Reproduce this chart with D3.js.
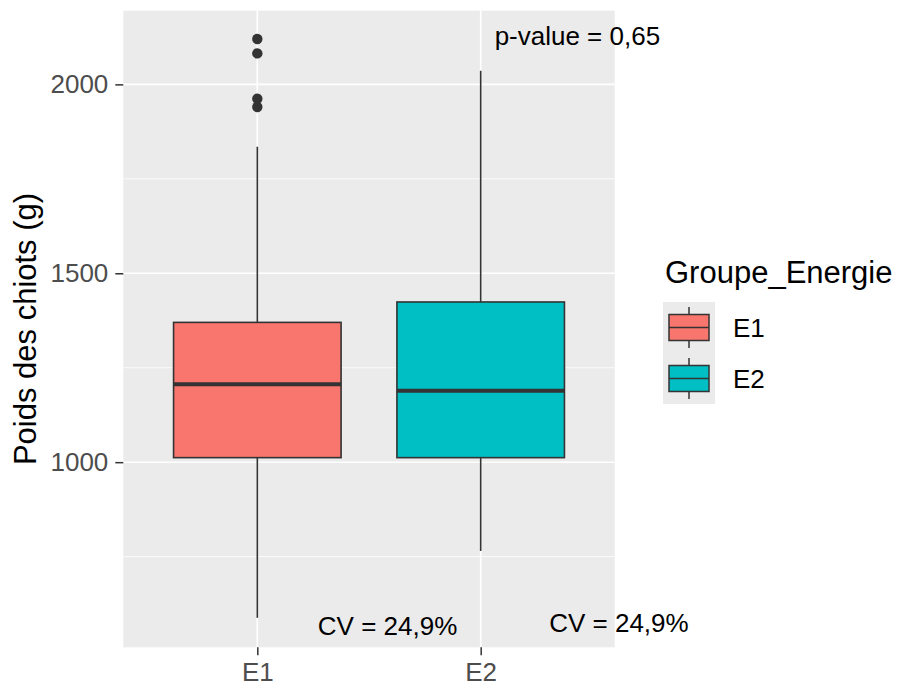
<!DOCTYPE html>
<html><head><meta charset="utf-8">
<script src="https://cdn.jsdelivr.net/npm/d3@7"></script>
<style>
body{margin:0;background:#fff;}
text{font-family:"Liberation Sans",Arial,sans-serif;}
</style></head>
<body><svg id="c" width="900" height="687"></svg>
<script>
// ---- data ----
const categories = ["E1", "E2"];
const whiskerLow  = [588, 765];
const q1          = [1012, 1012];
const medians     = [1206, 1189];
const q3          = [1370, 1424];
const whiskerHigh = [1835, 2036];
const outliers    = [[2120, 2082, 1962, 1940], []];
const fills       = ["#F8766D", "#00BFC4"];
const yTicks      = [1000, 1500, 2000];
const yMinor      = [750, 1250, 1750];
const annLabels   = ["p-value = 0,65", "CV = 24,9%", "CV = 24,9%"];
const annX        = [2.433, 1.583, 2.619];
const annY        = [2128, 566, 575];

const svg = d3.select("#c");
const L = 123.3, R = 614.7, T = 10.7, B = 647.3;

const x = d3.scalePoint().domain(categories).range([L, R]).padding(0.6);
const step = x.step();
const xNum = v => x(categories[0]) + (v - 1) * step;
const y = d3.scaleLinear().domain([510, 2195]).range([B, T]);
const bw = step * 0.75;

// panel
svg.append("rect").attr("x", L).attr("y", T).attr("width", R - L).attr("height", B - T).attr("fill", "#EBEBEB");
const g = svg.append("g");
g.selectAll(".minor").data(yMinor).join("line")
  .attr("x1", L).attr("x2", R).attr("y1", d => y(d)).attr("y2", d => y(d))
  .attr("stroke", "#fff").attr("stroke-width", 0.8);
g.selectAll(".major").data(yTicks).join("line")
  .attr("x1", L).attr("x2", R).attr("y1", d => y(d)).attr("y2", d => y(d))
  .attr("stroke", "#fff").attr("stroke-width", 1.6);
g.selectAll(".vmajor").data(categories).join("line")
  .attr("x1", d => x(d)).attr("x2", d => x(d)).attr("y1", T).attr("y2", B)
  .attr("stroke", "#fff").attr("stroke-width", 1.6);

// boxes
const boxes = svg.append("g").selectAll("g").data(categories).join("g");
boxes.append("line")
  .attr("x1", d => x(d)).attr("x2", d => x(d))
  .attr("y1", (d, i) => y(whiskerHigh[i])).attr("y2", (d, i) => y(q3[i]))
  .attr("stroke", "#333").attr("stroke-width", 1.6);
boxes.append("line")
  .attr("x1", d => x(d)).attr("x2", d => x(d))
  .attr("y1", (d, i) => y(q1[i])).attr("y2", (d, i) => y(whiskerLow[i]))
  .attr("stroke", "#333").attr("stroke-width", 1.6);
boxes.append("rect")
  .attr("x", d => x(d) - bw / 2).attr("width", bw)
  .attr("y", (d, i) => y(q3[i])).attr("height", (d, i) => y(q1[i]) - y(q3[i]))
  .attr("fill", (d, i) => fills[i]).attr("stroke", "#333").attr("stroke-width", 1.6);
boxes.append("line")
  .attr("x1", d => x(d) - bw / 2).attr("x2", d => x(d) + bw / 2)
  .attr("y1", (d, i) => y(medians[i])).attr("y2", (d, i) => y(medians[i]))
  .attr("stroke", "#333").attr("stroke-width", 4);
boxes.each(function (d, i) {
  d3.select(this).selectAll("circle").data(outliers[i]).join("circle")
    .attr("cx", x(d)).attr("cy", v => y(v)).attr("r", 5.2).attr("fill", "#333");
});

// axes
const ya = svg.append("g").attr("transform", `translate(${L},0)`)
  .call(d3.axisLeft(y).tickValues(yTicks).tickSize(8).tickPadding(7).tickFormat(d3.format("d")));
ya.select(".domain").remove();
ya.selectAll(".tick line").attr("stroke", "#333").attr("stroke-width", 1.5);
ya.selectAll(".tick text").attr("fill", "#4D4D4D").style("font-size", "26px").attr("font-family", null);

const xa = svg.append("g").attr("transform", `translate(0,${B})`)
  .call(d3.axisBottom(x).tickSize(8).tickPadding(7));
xa.select(".domain").remove();
xa.selectAll(".tick line").attr("stroke", "#333").attr("stroke-width", 1.5);
xa.selectAll(".tick text").attr("fill", "#4D4D4D").style("font-size", "26px").attr("font-family", null);

// y title
svg.append("text").attr("transform", `translate(36,${(T + B) / 2}) rotate(-90)`)
  .attr("text-anchor", "middle").style("font-size", "31px").attr("fill", "#000")
  .text("Poids des chiots (g)");

// annotations
svg.append("g").selectAll("text").data(annLabels).join("text")
  .attr("x", (d, i) => xNum(annX[i])).attr("y", (d, i) => y(annY[i]))
  .attr("dy", "0.35em").attr("text-anchor", "middle")
  .style("font-size", "26px").attr("fill", "#000").text(d => d);

// legend
const lg = svg.append("g");
lg.append("text").attr("x", 665).attr("y", 283).style("font-size", "31px").attr("fill", "#000").text("Groupe_Energie");
const keyH = 51, keyW = 52, kx = 663, ky = 302;
const keys = lg.selectAll(".k").data(categories).join("g")
  .attr("transform", (d, i) => `translate(${kx},${ky + i * keyH})`);
keys.append("rect").attr("width", keyW).attr("height", keyH).attr("fill", "#EBEBEB");
keys.append("line").attr("x1", keyW / 2).attr("x2", keyW / 2).attr("y1", keyH / 2 - 20.5).attr("y2", keyH / 2 + 20.5)
  .attr("stroke", "#333").attr("stroke-width", 1.5);
keys.append("rect").attr("x", keyW / 2 - 20).attr("width", 40).attr("y", keyH / 2 - 13).attr("height", 26)
  .attr("fill", (d, i) => fills[i]).attr("stroke", "#333").attr("stroke-width", 1.5);
keys.append("line").attr("x1", keyW / 2 - 20).attr("x2", keyW / 2 + 20).attr("y1", keyH / 2).attr("y2", keyH / 2)
  .attr("stroke", "#333").attr("stroke-width", 1.5);
keys.append("text").attr("x", 733 - kx).attr("y", keyH / 2).attr("dy", "0.36em")
  .style("font-size", "26px").attr("fill", "#000").text(d => d);
</script></body></html>
